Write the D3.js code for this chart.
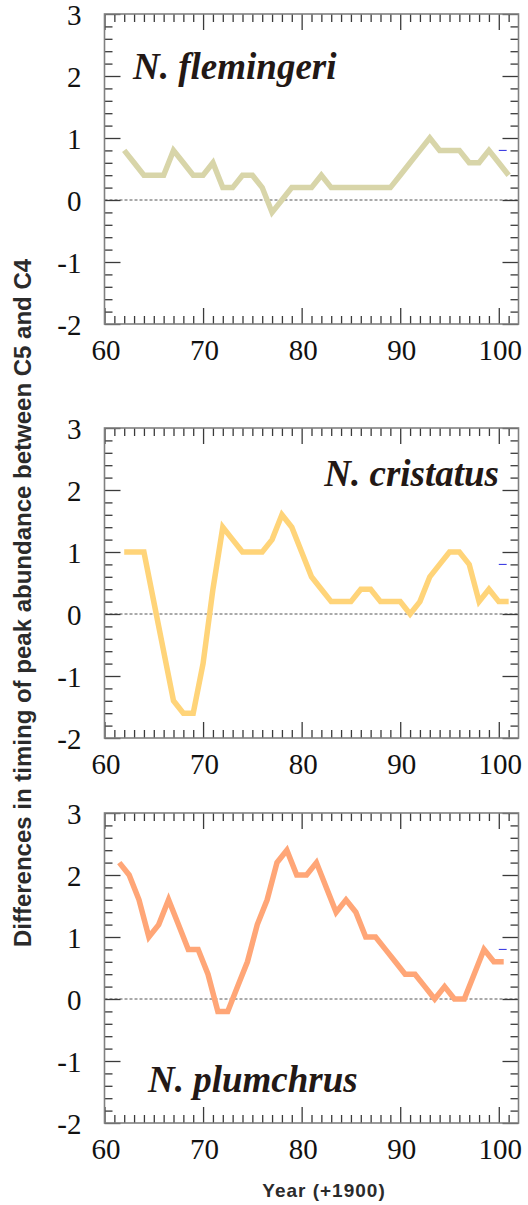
<!DOCTYPE html>
<html>
<head>
<meta charset="utf-8">
<script src="https://cdn.jsdelivr.net/npm/d3@7"></script>
<style>
  body { margin: 0; background: #fff; }
  svg { display: block; }
</style>
</head>
<body>
<svg id="chart" width="528" height="1205"></svg>
<script>
// Difference in timing of peak abundance (C5 minus C4), Neocalanus spp., 1962-2001
const years = d3.range(62, 102);                 // annual, 1962..2001
const flemingeri = [0.8, 0.6, 0.4, 0.4, 0.4, 0.8, 0.6, 0.4, 0.4, 0.6,
                    0.2, 0.2, 0.4, 0.4, 0.2, -0.2, 0.0, 0.2, 0.2, 0.2,
                    0.4, 0.2, 0.2, 0.2, 0.2, 0.2, 0.2, 0.2, 0.4, 0.6,
                    0.8, 1.0, 0.8, 0.8, 0.8, 0.6, 0.6, 0.8, 0.6, 0.4];
const cristatus = [1.0, 1.0, 1.0, 0.2, -0.6, -1.4, -1.6, -1.6, -0.8, 0.4,
                   1.4, 1.2, 1.0, 1.0, 1.0, 1.2, 1.6, 1.4, 1.0, 0.6,
                   0.4, 0.2, 0.2, 0.2, 0.4, 0.4, 0.2, 0.2, 0.2, 0.0,
                   0.2, 0.6, 0.8, 1.0, 1.0, 0.8, 0.2, 0.4, 0.2, 0.2];
const plumchrusYears = d3.range(61.5, 101, 1);   // mid-year positions
const plumchrus = [2.2, 2.0, 1.6, 1.0, 1.2, 1.6, 1.2, 0.8, 0.8, 0.4,
                   -0.2, -0.2, 0.2, 0.6, 1.2, 1.6, 2.2, 2.4, 2.0, 2.0,
                   2.2, 1.8, 1.4, 1.6, 1.4, 1.0, 1.0, 0.8, 0.6, 0.4,
                   0.4, 0.2, 0.0, 0.2, 0.0, 0.0, 0.4, 0.8, 0.6, 0.6];

const speciesNames = ["N. flemingeri", "N. cristatus", "N. plumchrus"];
const xMajorTicks = [60, 70, 80, 90, 100];
const yMajorTicks = [-2, -1, 0, 1, 2, 3];
const xMinorTicks = d3.range(61, 102).filter(v => v % 10 !== 0);
const yMinorTicks = d3.range(-9, 15).map(i => i / 5).filter(v => !Number.isInteger(v));
const markerValue = 0.8;       // short blue mark on the right edge
const markerYears = [100, 100.8];

const panels = [
  { name: speciesNames[0], xs: years, ys: flemingeri, color: "#d8d5a9", top: 14,
    label: { x: 133, y: 79, anchor: "start" } },
  { name: speciesNames[1], xs: years, ys: cristatus, color: "#ffd479", top: 428,
    label: { x: 499, y: 486, anchor: "end" } },
  { name: speciesNames[2], xs: plumchrusYears, ys: plumchrus, color: "#ffa677", top: 813,
    label: { x: 148, y: 1092, anchor: "start" } }
];

const svg = d3.select("#chart");
const panelH = 310;
const x = d3.scaleLinear().domain([60, 102]).range([104.5, 518.5]);
const left = x.range()[0], right = x.range()[1];

const serif = "'Liberation Serif', 'Times New Roman', serif";
const plainNumber = d => String(d);   // ASCII hyphen for negatives

panels.forEach(p => {
  const y = d3.scaleLinear().domain([-2, 3]).range([p.top + panelH, p.top]);
  const g = svg.append("g");
  const bottom = p.top + panelH;

  // zero reference line
  g.append("line")
    .attr("x1", left).attr("x2", right)
    .attr("y1", y(0)).attr("y2", y(0))
    .attr("stroke", "#555").attr("stroke-width", 1)
    .attr("stroke-dasharray", "3,2");

  // data line
  const line = d3.line().x(d => x(d[0])).y(d => y(d[1]));
  g.append("path")
    .datum(p.xs.map((v, i) => [v, p.ys[i]]))
    .attr("d", line)
    .attr("fill", "none")
    .attr("stroke", p.color)
    .attr("stroke-width", 5.5)
    .attr("stroke-linejoin", "miter")
    .attr("stroke-linecap", "butt");

  // small blue mark
  g.append("line")
    .attr("x1", x(markerYears[0])).attr("x2", x(markerYears[1]))
    .attr("y1", y(markerValue)).attr("y2", y(markerValue))
    .attr("stroke", "#2a2ae0").attr("stroke-width", 1);

  const styleAxis = sel => {
    sel.select(".domain").remove();
    sel.attr("font-family", serif).attr("font-size", 29);
    sel.selectAll(".tick line").attr("stroke", "#3a3a3a").attr("stroke-width", 1.3);
  };

  // bottom axis: major ticks with labels, minor ticks
  g.append("g").attr("transform", `translate(0,${bottom})`)
    .call(d3.axisBottom(x).tickValues(xMinorTicks).tickSize(-8).tickFormat(""))
    .call(styleAxis);
  const bx = g.append("g").attr("transform", `translate(0,${bottom})`)
    .call(d3.axisBottom(x).tickValues(xMajorTicks).tickSize(-16).tickFormat(plainNumber))
    .call(styleAxis);
  bx.selectAll(".tick text")
    .attr("y", 36).attr("dy", null).attr("dx", 1)
    .attr("fill", "#111")
    .style("font-family", serif).style("font-size", "29px");

  // top axis
  g.append("g").attr("transform", `translate(0,${p.top})`)
    .call(d3.axisTop(x).tickValues(xMinorTicks).tickSize(-8).tickFormat(""))
    .call(styleAxis);
  g.append("g").attr("transform", `translate(0,${p.top})`)
    .call(d3.axisTop(x).tickValues(xMajorTicks).tickSize(-16).tickFormat(""))
    .call(styleAxis);

  // left axis
  g.append("g").attr("transform", `translate(${left},0)`)
    .call(d3.axisLeft(y).tickValues(yMinorTicks).tickSize(-8).tickFormat(""))
    .call(styleAxis);
  const ly = g.append("g").attr("transform", `translate(${left},0)`)
    .call(d3.axisLeft(y).tickValues(yMajorTicks).tickSize(-16).tickPadding(23).tickFormat(plainNumber))
    .call(styleAxis);
  ly.selectAll(".tick text")
    .attr("dy", "0.35em")
    .attr("fill", "#111")
    .style("font-family", serif).style("font-size", "29px");

  // right axis
  g.append("g").attr("transform", `translate(${right},0)`)
    .call(d3.axisRight(y).tickValues(yMinorTicks).tickSize(-8).tickFormat(""))
    .call(styleAxis);
  g.append("g").attr("transform", `translate(${right},0)`)
    .call(d3.axisRight(y).tickValues(yMajorTicks).tickSize(-16).tickFormat(""))
    .call(styleAxis);

  // frame
  g.append("rect")
    .attr("x", left).attr("y", p.top)
    .attr("width", right - left).attr("height", panelH)
    .attr("fill", "none").attr("stroke", "#808080").attr("stroke-width", 1.6);

  // species name
  g.append("text")
    .attr("x", p.label.x).attr("y", p.label.y)
    .attr("text-anchor", p.label.anchor)
    .attr("fill", "#231815")
    .style("font-family", serif)
    .style("font-weight", "bold").style("font-style", "italic")
    .style("font-size", "37px")
    .text(p.name);
});

// axis titles
svg.append("text")
  .attr("transform", "translate(31,603) rotate(-90)")
  .attr("text-anchor", "middle")
  .attr("fill", "#2b2b2b")
  .style("font-family", "'Liberation Sans', Arial, sans-serif")
  .style("font-weight", "bold").style("font-size", "24px")
  .text("Differences in timing of peak abundance between C5 and C4");

svg.append("text")
  .attr("x", 324).attr("y", 1197)
  .attr("text-anchor", "middle")
  .attr("fill", "#2b2b2b")
  .style("font-family", "'Liberation Sans', Arial, sans-serif")
  .style("font-weight", "bold").style("font-size", "19px")
  .style("letter-spacing", "1px")
  .text("Year (+1900)");
</script>
</body>
</html>
